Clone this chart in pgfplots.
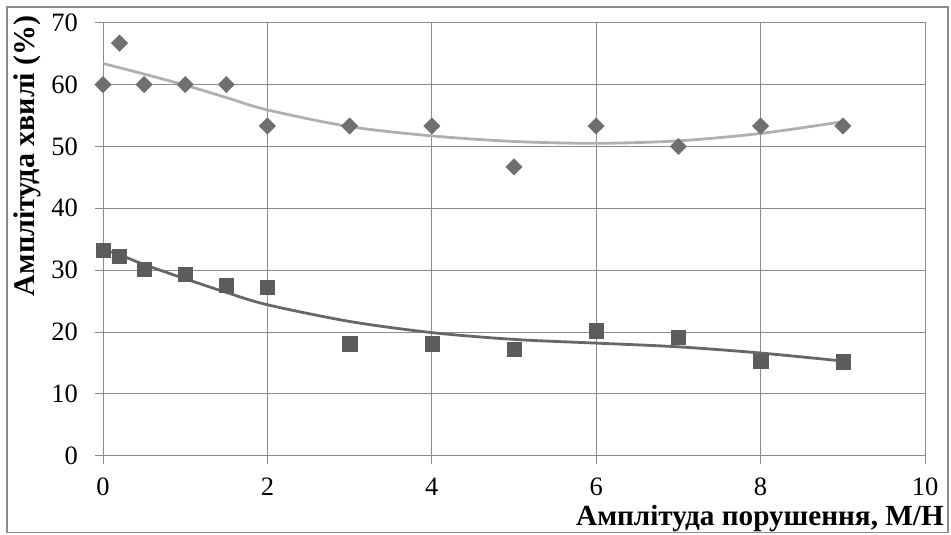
\documentclass[border=0pt]{standalone}
\usepackage{pgfplots}
\pgfplotsset{compat=1.18}
\usepackage{fontspec}
\setmainfont{Liberation Serif}
\definecolor{gridc}{HTML}{8C8C8C}
\definecolor{framec}{HTML}{8A8A8A}
\definecolor{diam}{HTML}{6F6F6F}
\definecolor{sq}{HTML}{5C5C5C}
\definecolor{lightc}{HTML}{B0B0B0}
\definecolor{darkc}{HTML}{676767}
\begin{document}
\begin{tikzpicture}[x=1pt,y=1pt]
\useasboundingbox (-103,-79.3) rectangle (848,455.7);
\draw[framec, line width=1.3pt] (-96,-77) rectangle (845,448.7);
\begin{axis}[
  at={(0,0)}, anchor=south west,
  scale only axis, width=822pt, height=433pt,
  xmin=0, xmax=10, ymin=0, ymax=70,
  xtick={0,2,...,10}, ytick={0,10,...,70},
  grid=major, grid style={gridc, line width=0.9pt},
  axis line style={gridc, line width=0.9pt},
  tick style={gridc, line width=0.9pt},
  tick align=outside, major tick length=8pt,
  xtick pos=bottom, ytick pos=left,
  /pgf/number format/assume math mode=true,
  ticklabel style={font=\fontsize{26.5}{30}\selectfont},
  xticklabel style={anchor=north, inner sep=0pt, yshift=-14pt},
  yticklabel style={anchor=east, inner sep=0pt, xshift=-17pt},
  clip=false,
]
\addplot[only marks, mark=square*, mark size=5.8pt, mark options={rotate=45, fill=diam, draw=diam, line width=0.4pt}]
coordinates {(0,60) (0.2,66.7) (0.5,60) (1,60) (1.5,60) (2,53.3) (3,53.3) (4,53.3) (5,46.7) (6,53.3) (7,50) (8,53.3) (9,53.3)};
\addplot[only marks, mark=square*, mark size=7.1pt, mark options={fill=sq, draw=sq, line width=0.4pt}]
coordinates {(0,33.2) (0.2,32.2) (0.5,30.2) (1,29.3) (1.5,27.6) (2,27.2) (3,18.1) (4,18.1) (5,17.2) (6,20.2) (7,19.1) (8,15.3) (9,15.2)};
\addplot[lightc, line width=2.8pt, smooth, no marks]
coordinates {(0,63.4) (0.5,61.7) (1,59.9) (1.5,57.9) (2,55.9) (3,53.2) (4,51.7) (5,50.8) (6,50.5) (7,50.9) (8,52.1) (9,54.0)};
\addplot[darkc, line width=2.8pt, smooth, no marks]
coordinates {(0,33.3) (0.2,32.5) (0.5,30.9) (1,28.6) (1.5,26.4) (2,24.4) (3,21.7) (4,19.9) (5,18.8) (6,18.2) (7,17.6) (8,16.6) (9,15.3)};
\end{axis}
\node[anchor=base east, inner sep=0pt, font=\bfseries\fontsize{29.2}{32}\selectfont] at (841,-69.5) {Амплітуда порушення, М/Н};
\node[rotate=90, anchor=base east, inner sep=0pt, font=\bfseries\fontsize{30}{32}\selectfont] at (-68,440.7) {Амплітуда хвилі (\%)};
\end{tikzpicture}
\end{document}
